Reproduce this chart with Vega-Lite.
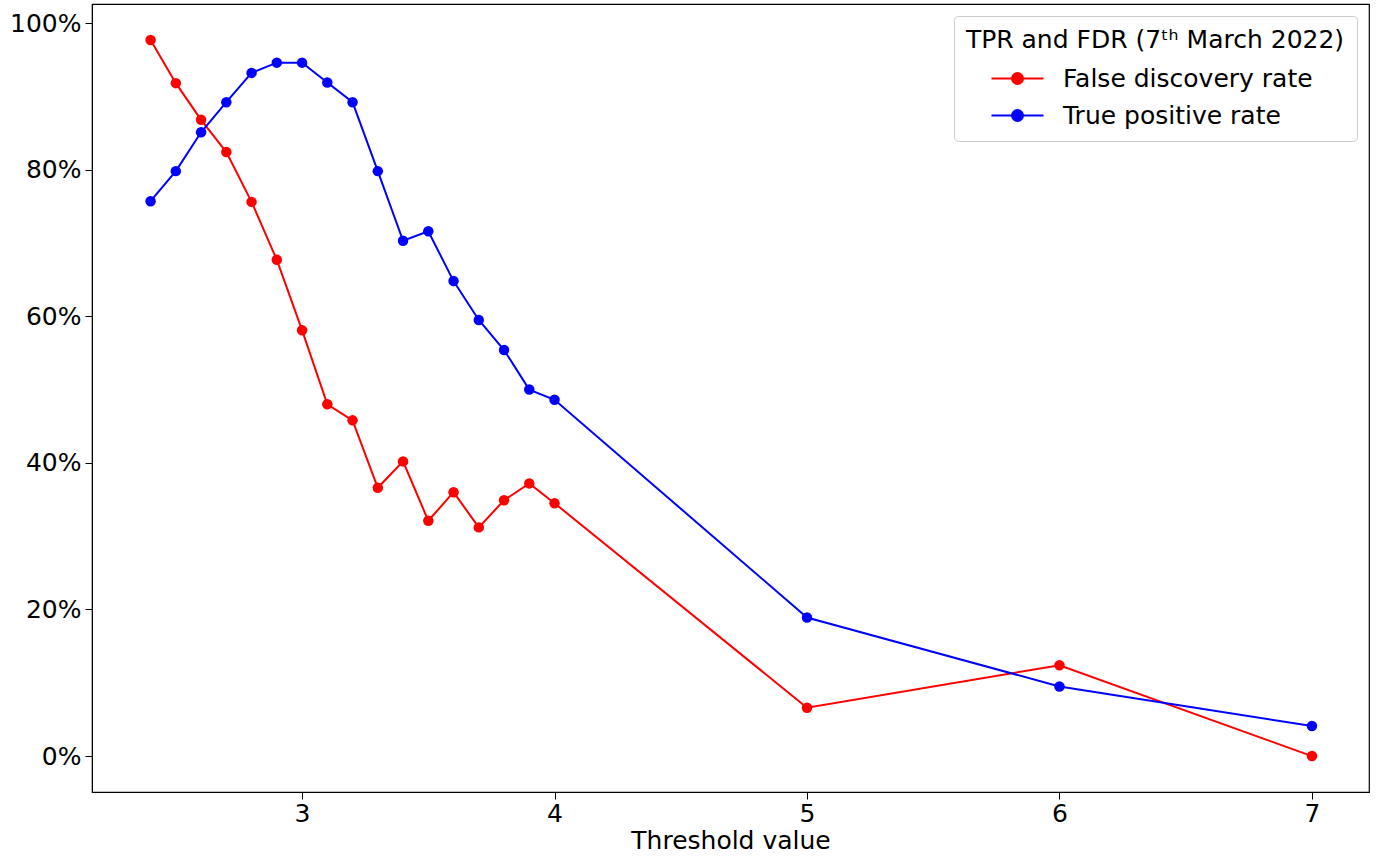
{
  "$schema": "https://vega.github.io/schema/vega-lite/v6.json",
  "width": 1277,
  "height": 788,
  "autosize": {"type": "none"},
  "padding": {"left": 92, "top": 4, "right": 9, "bottom": 69},
  "background": "white",
  "config": {
    "font": "DejaVu Sans",
    "view": {"stroke": "black", "strokeWidth": 1.2},
    "axis": {
      "grid": false,
      "domainColor": "black",
      "tickColor": "black",
      "tickSize": 7,
      "labelColor": "black",
      "titleColor": "black",
      "labelFontSize": 25,
      "titleFontSize": 25,
      "titleFontWeight": "normal",
      "labelFont": "DejaVu Sans",
      "titleFont": "DejaVu Sans"
    }
  },
  "data": {
    "values": [
      {"threshold": 2.4, "series": "False discovery rate", "rate": 0.977},
      {"threshold": 2.5, "series": "False discovery rate", "rate": 0.918},
      {"threshold": 2.6, "series": "False discovery rate", "rate": 0.868},
      {"threshold": 2.7, "series": "False discovery rate", "rate": 0.824},
      {"threshold": 2.8, "series": "False discovery rate", "rate": 0.756},
      {"threshold": 2.9, "series": "False discovery rate", "rate": 0.677},
      {"threshold": 3.0, "series": "False discovery rate", "rate": 0.581},
      {"threshold": 3.1, "series": "False discovery rate", "rate": 0.480},
      {"threshold": 3.2, "series": "False discovery rate", "rate": 0.458},
      {"threshold": 3.3, "series": "False discovery rate", "rate": 0.366},
      {"threshold": 3.4, "series": "False discovery rate", "rate": 0.402},
      {"threshold": 3.5, "series": "False discovery rate", "rate": 0.321},
      {"threshold": 3.6, "series": "False discovery rate", "rate": 0.360},
      {"threshold": 3.7, "series": "False discovery rate", "rate": 0.312},
      {"threshold": 3.8, "series": "False discovery rate", "rate": 0.349},
      {"threshold": 3.9, "series": "False discovery rate", "rate": 0.372},
      {"threshold": 4.0, "series": "False discovery rate", "rate": 0.345},
      {"threshold": 5.0, "series": "False discovery rate", "rate": 0.066},
      {"threshold": 6.0, "series": "False discovery rate", "rate": 0.124},
      {"threshold": 7.0, "series": "False discovery rate", "rate": 0.0},
      {"threshold": 2.4, "series": "True positive rate", "rate": 0.757},
      {"threshold": 2.5, "series": "True positive rate", "rate": 0.798},
      {"threshold": 2.6, "series": "True positive rate", "rate": 0.851},
      {"threshold": 2.7, "series": "True positive rate", "rate": 0.892},
      {"threshold": 2.8, "series": "True positive rate", "rate": 0.932},
      {"threshold": 2.9, "series": "True positive rate", "rate": 0.946},
      {"threshold": 3.0, "series": "True positive rate", "rate": 0.946},
      {"threshold": 3.1, "series": "True positive rate", "rate": 0.919},
      {"threshold": 3.2, "series": "True positive rate", "rate": 0.892},
      {"threshold": 3.3, "series": "True positive rate", "rate": 0.798},
      {"threshold": 3.4, "series": "True positive rate", "rate": 0.703},
      {"threshold": 3.5, "series": "True positive rate", "rate": 0.716},
      {"threshold": 3.6, "series": "True positive rate", "rate": 0.648},
      {"threshold": 3.7, "series": "True positive rate", "rate": 0.595},
      {"threshold": 3.8, "series": "True positive rate", "rate": 0.554},
      {"threshold": 3.9, "series": "True positive rate", "rate": 0.500},
      {"threshold": 4.0, "series": "True positive rate", "rate": 0.486},
      {"threshold": 5.0, "series": "True positive rate", "rate": 0.189},
      {"threshold": 6.0, "series": "True positive rate", "rate": 0.095},
      {"threshold": 7.0, "series": "True positive rate", "rate": 0.041}
    ]
  },
  "encoding": {
    "x": {
      "field": "threshold",
      "type": "quantitative",
      "title": "Threshold value",
      "scale": {"domain": [2.168, 7.226], "nice": false, "zero": false},
      "axis": {"values": [3, 4, 5, 6, 7], "format": "d", "labelPadding": 2, "titlePadding": 2}
    },
    "y": {
      "field": "rate",
      "type": "quantitative",
      "title": null,
      "scale": {"domain": [-0.049, 1.026], "nice": false, "zero": false},
      "axis": {"values": [0, 0.2, 0.4, 0.6, 0.8, 1.0], "format": ".0%", "labelPadding": 4}
    },
    "color": {
      "field": "series",
      "type": "nominal",
      "scale": {"domain": ["False discovery rate", "True positive rate"], "range": ["#ff0000", "#0000ff"]},
      "legend": {
        "title": "TPR and FDR (7ᵗʰ March 2022)",
        "orient": "top-right",
        "offset": 12,
        "fillColor": "white",
        "strokeColor": "#cccccc",
        "cornerRadius": 4,
        "padding": 12,
        "titleFontSize": 25,
        "titleFontWeight": "normal",
        "titleColor": "black",
        "titleAnchor": "middle",
        "titleLimit": 1000,
        "titlePadding": 13,
        "labelFontSize": 25,
        "labelColor": "black",
        "labelLimit": 1000,
        "labelOffset": 33,
        "rowPadding": 11,
        "symbolSize": 400,
        "symbolOffset": 8,
        "symbolStrokeWidth": 2,
        "symbolType": "M-2.6,0L2.6,0M-0.55,0A0.55,0.55,0,1,1,0.55,0A0.55,0.55,0,1,1,-0.55,0Z",
        "encode": {
          "symbols": {
            "update": {
              "fill": {"scale": "color", "field": "value"},
              "stroke": {"scale": "color", "field": "value"}
            }
          }
        }
      }
    }
  },
  "layer": [
    {"mark": {"type": "line", "strokeWidth": 2}},
    {"mark": {"type": "point", "filled": true, "opacity": 1, "size": 110}}
  ]
}
